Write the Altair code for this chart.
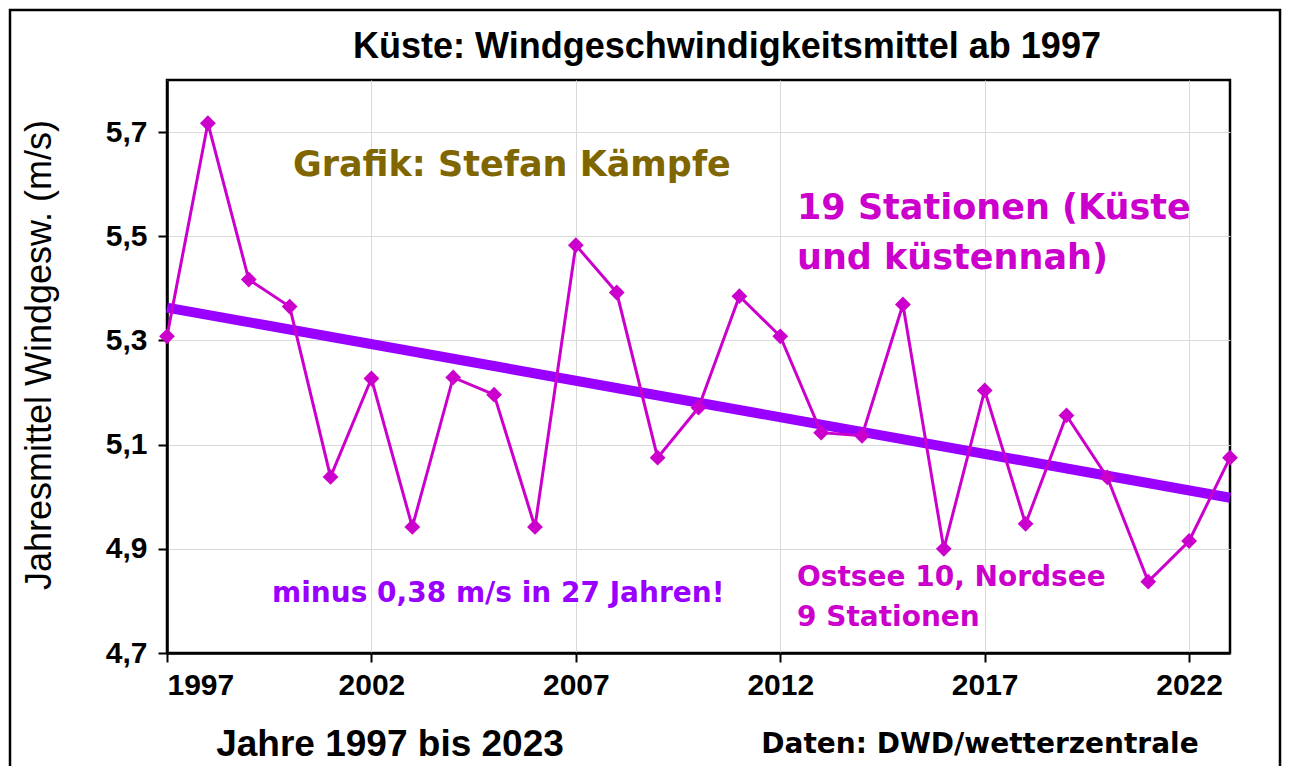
import altair as alt
import pandas as pd

years = list(range(1997, 2024))
values = [5.308, 5.717, 5.417, 5.365, 5.038, 5.227, 4.942, 5.229, 5.196, 4.942,
          5.483, 5.392, 5.075, 5.171, 5.385, 5.308, 5.123, 5.117, 5.369, 4.900,
          5.204, 4.948, 5.156, 5.037, 4.837, 4.915, 5.075]
x_ticks = [1997, 2002, 2007, 2012, 2017, 2022]
y_ticks = [4.7, 4.9, 5.1, 5.3, 5.5, 5.7]

df = pd.DataFrame({"year": years, "value": values})

W, H = 1063, 573
MAGENTA = "#CC00CC"
PURPLE = "#9900FF"
OLIVE = "#806600"

xs = alt.Scale(domain=[1997, 2023], nice=False, zero=False)
ys = alt.Scale(domain=[4.7, 5.8], nice=False, zero=False)

xax = alt.Axis(values=x_ticks, format="d", title=None, grid=True, gridColor="#d9d9d9",
               labelFont="Liberation Sans", labelFontWeight="bold", labelFontSize=30,
               labelColor="black", labelPadding=8, tickSize=9, tickColor="black",
               tickWidth=2, domainColor="black", domainWidth=2.5)
yax = alt.Axis(values=y_ticks, title=None, grid=True, gridColor="#d9d9d9",
               labelExpr="replace(format(datum.value, '.1f'), '.', ',')",
               labelFont="Liberation Sans", labelFontWeight="bold", labelFontSize=30,
               labelColor="black", labelPadding=11, tickSize=9, tickColor="black",
               tickWidth=2, domainColor="black", domainWidth=2.5)

base = alt.Chart(df)

trend = base.transform_regression("year", "value", extent=[1997, 2023]).mark_line(
    color=PURPLE, strokeWidth=10, strokeCap="butt"
).encode(x=alt.X("year:Q", scale=xs, axis=xax), y=alt.Y("value:Q", scale=ys, axis=yax))

line = base.mark_line(color=MAGENTA, strokeWidth=3).encode(
    x=alt.X("year:Q", scale=xs), y=alt.Y("value:Q", scale=ys))
pts = base.mark_point(shape="diamond", filled=True, size=250, color=MAGENTA, opacity=1).encode(
    x=alt.X("year:Q", scale=xs), y=alt.Y("value:Q", scale=ys))

def txt(text, x, y, size, color="black", align="left", font="DejaVu Sans", weight="bold", angle=0):
    kw = dict(text=text, align=align, baseline="middle", fontSize=size, font=font,
              fontWeight=weight, color=color)
    if angle:
        kw["angle"] = angle
    return alt.Chart(pd.DataFrame({"a": [0]})).mark_text(**kw).encode(
        x=alt.value(x), y=alt.value(y))

frame = alt.Chart(pd.DataFrame({"a": [0]})).mark_rect(
    fill=None, stroke="black", strokeWidth=2.5).encode(
    x=alt.value(-157), x2=alt.value(1113), y=alt.value(-70), y2=alt.value(720))

texts = [
    txt("Küste: Windgeschwindigkeitsmittel ab 1997", 560, -33, 36, font="Liberation Sans", align="center"),
    txt("Grafik: Stefan Kämpfe", 126, 85, 35, color=OLIVE),
    txt("19 Stationen (Küste", 630, 128, 35, color=MAGENTA),
    txt("und küstennah)", 630, 178, 35, color=MAGENTA),
    txt("minus 0,38 m/s in 27 Jahren!", 105, 514, 28, color=PURPLE),
    txt("Ostsee 10, Nordsee", 630, 498, 28, color=MAGENTA),
    txt("9 Stationen", 630, 538, 28, color=MAGENTA),
    txt("Jahresmittel Windgesw. (m/s)", -127, 275, 36, font="Liberation Sans", weight="normal", align="center", angle=270),
    txt("Jahre 1997 bis 2023", 223, 665, 37, font="Liberation Sans", align="center"),
    txt("Daten: DWD/wetterzentrale", 813, 665, 28, align="center"),
]

chart = alt.layer(trend, line, pts, frame, *texts).properties(
    width=W, height=H,
    autosize=alt.AutoSizeParams(type="none"),
    padding={"left": 159, "top": 72, "right": 52, "bottom": 113},
    background="white",
).configure_view(stroke="black", strokeWidth=2.5)

chart.save("out.html", embed_options={"renderer": "svg", "actions": False})
